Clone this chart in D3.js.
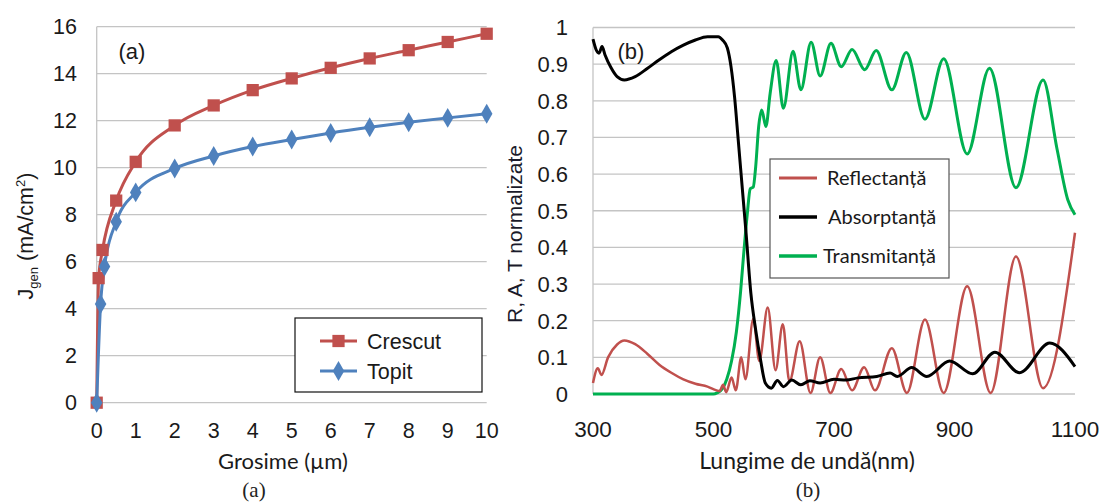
<!DOCTYPE html>
<html>
<head>
<meta charset="utf-8">
<script src="https://cdn.jsdelivr.net/npm/d3@7"></script>
<style>
  body { margin: 0; background: #fff; }
  svg { display: block; }
  .sans { font-family: "Liberation Sans", Arial, sans-serif; }
  .cal { font-family: Lato, "Open Sans", sans-serif; }
  .serif { font-family: "Liberation Serif", "Times New Roman", serif; }
</style>
</head>
<body>
<svg id="chart" width="1099" height="504"></svg>
<script>
// (a) Jgen vs grosime
const grosimeCrescut = [0, 0.05, 0.15, 0.5, 1, 2, 3, 4, 5, 6, 7, 8, 9, 10];
const jCrescut = [0, 5.3, 6.5, 8.6, 10.25, 11.8, 12.65, 13.3, 13.8, 14.25, 14.65, 15.0, 15.35, 15.7];
const grosimeTopit = [0, 0.1, 0.2, 0.5, 1, 2, 3, 4, 5, 6, 7, 8, 9, 10];
const jTopit = [0, 4.2, 5.8, 7.7, 8.95, 9.97, 10.5, 10.9, 11.2, 11.48, 11.72, 11.93, 12.12, 12.3];
const ticksA_x = [0, 1, 2, 3, 4, 5, 6, 7, 8, 9, 10];
const ticksA_y = [0, 2, 4, 6, 8, 10, 12, 14, 16];

// (b) R, A, T vs lungime de unda
const reflectanta = [
  [300, 0.03], [308, 0.07], [314, 0.052], [325, 0.1], [340, 0.135], [352, 0.146], [370, 0.136],
  [390, 0.11], [410, 0.08], [430, 0.058], [450, 0.04], [470, 0.028], [490, 0.02], [505, 0.01],
  [510, 0.008], [516, 0.025], [521, 0.005], [530, 0.045], [537, 0.01], [546, 0.1], [553, 0.04],
  [566, 0.205], [576, 0.09], [590, 0.236], [603, 0.065], [615, 0.19], [626, 0.035], [643, 0.144],
  [661, 0.003], [677, 0.1], [694, 0.003], [712, 0.068], [730, 0.01], [750, 0.073], [768, 0.01],
  [796, 0.125], [821, 0.003], [851, 0.203], [882, 0.003], [921, 0.294], [960, 0.003],
  [1002, 0.375], [1047, 0.016], [1100, 0.44]
];
const absorptanta = [
  [300, 0.968], [305, 0.94], [310, 0.93], [315, 0.948], [320, 0.925], [330, 0.89], [340, 0.866],
  [352, 0.857], [370, 0.866], [390, 0.888], [410, 0.912], [430, 0.934], [450, 0.952], [470, 0.966],
  [490, 0.975], [508, 0.975], [515, 0.966], [523, 0.944], [529, 0.894], [535, 0.81], [541, 0.694],
  [548, 0.557], [554, 0.44], [562, 0.275], [570, 0.175], [578, 0.094], [586, 0.03], [596, 0.016],
  [606, 0.037], [616, 0.02], [630, 0.038], [645, 0.025], [660, 0.036], [677, 0.03], [700, 0.04],
  [720, 0.038], [740, 0.044], [771, 0.048], [793, 0.057], [805, 0.048], [829, 0.072], [854, 0.048],
  [892, 0.09], [930, 0.055], [967, 0.114], [1008, 0.058], [1058, 0.139], [1100, 0.075]
];
const transmitanta = [
  [300, 0], [500, 0], [506, 0.003], [515, 0.015], [522, 0.04], [530, 0.09], [538, 0.17],
  [545, 0.28], [550, 0.38], [556, 0.49], [561, 0.56], [566, 0.565], [570, 0.62], [575, 0.73],
  [580, 0.775], [587, 0.73], [594, 0.82], [604, 0.91], [616, 0.78], [632, 0.935], [645, 0.83],
  [662, 0.96], [677, 0.868], [695, 0.957], [712, 0.893], [730, 0.94], [751, 0.885], [770, 0.937],
  [796, 0.83], [820, 0.932], [851, 0.75], [882, 0.915], [921, 0.655], [958, 0.889], [1002, 0.563],
  [1047, 0.857], [1070, 0.67], [1088, 0.53], [1100, 0.489]
];
const ticksB_x = [300, 500, 700, 900, 1100];
const ticksB_y = [0, 0.1, 0.2, 0.3, 0.4, 0.5, 0.6, 0.7, 0.8, 0.9, 1];

const svg = d3.select("#chart");
const gridColor = "#c4c4c4";

// ---------- panel (a) ----------
const xa = d3.scaleLinear().domain([0, 10]).range([96.7, 486.7]);
const ya = d3.scaleLinear().domain([0, 16]).range([402.7, 26.7]);
const ga = svg.append("g");

ga.append("g").selectAll("line")
  .data(ticksA_y)
  .enter().append("line")
  .attr("x1", xa(0)).attr("x2", xa(10))
  .attr("y1", d => ya(d)).attr("y2", d => ya(d))
  .attr("stroke", gridColor).attr("stroke-width", 1.3);
ga.append("line")
  .attr("x1", xa(0)).attr("x2", xa(0))
  .attr("y1", ya(0)).attr("y2", ya(16))
  .attr("stroke", gridColor).attr("stroke-width", 1.3);

ga.append("g").attr("class", "sans").selectAll("text")
  .data(ticksA_y)
  .enter().append("text")
  .attr("x", 77).attr("y", d => ya(d)).attr("dy", "0.36em")
  .attr("text-anchor", "end").attr("font-size", 21.5).attr("fill", "#1a1a1a")
  .text(d => d);
ga.append("g").attr("class", "sans").selectAll("text")
  .data(ticksA_x)
  .enter().append("text")
  .attr("x", d => xa(d)).attr("y", 438)
  .attr("text-anchor", "middle").attr("font-size", 21.5).attr("fill", "#1a1a1a")
  .text(d => d);

const ylabA = ga.append("text").attr("class", "sans")
  .attr("transform", "translate(33,236) rotate(-90)")
  .attr("text-anchor", "middle").attr("font-size", 21.5).attr("fill", "#1a1a1a");
ylabA.append("tspan").text("J");
ylabA.append("tspan").attr("font-size", 13).attr("dy", 5).text("gen");
ylabA.append("tspan").attr("dy", -5).text(" (mA/cm");
ylabA.append("tspan").attr("font-size", 13).attr("dy", -8).text("2");
ylabA.append("tspan").attr("dy", 8).text(")");

ga.append("text").attr("class", "cal")
  .attr("x", 283).attr("y", 469).attr("text-anchor", "middle")
  .attr("font-size", 22).attr("fill", "#1a1a1a").text("Grosime (µm)");
ga.append("text").attr("class", "sans")
  .attr("x", 132).attr("y", 59).attr("text-anchor", "middle")
  .attr("font-size", 22).attr("fill", "#1a1a1a").text("(a)");

const lineA = d3.line().x(d => xa(d[0])).y(d => ya(d[1])).curve(d3.curveMonotoneX);
const serA = [
  { name: "Crescut", color: "#C0504D", shape: d3.symbolSquare, size: 150,
    pts: grosimeCrescut.map((g, i) => [g, jCrescut[i]]) },
  { name: "Topit", color: "#4F81BD", shape: d3.symbolDiamond, size: 115,
    pts: grosimeTopit.map((g, i) => [g, jTopit[i]]) }
];
serA.forEach(s => {
  ga.append("path").attr("d", lineA(s.pts))
    .attr("fill", "none").attr("stroke", s.color).attr("stroke-width", 3);
});
serA.forEach(s => {
  ga.append("g").selectAll("path")
    .data(s.pts)
    .enter().append("path")
    .attr("d", d3.symbol().type(s.shape).size(s.size))
    .attr("transform", d => `translate(${xa(d[0])},${ya(d[1])})`)
    .attr("fill", s.color);
});

// legenda (a)
const legA = ga.append("g");
legA.append("rect").attr("x", 295).attr("y", 318).attr("width", 187).attr("height", 74)
  .attr("fill", "#fff").attr("stroke", "#111").attr("stroke-width", 1.2);
serA.forEach((s, i) => {
  const cy = 341 + i * 30;
  legA.append("line").attr("x1", 320).attr("x2", 357).attr("y1", cy).attr("y2", cy)
    .attr("stroke", s.color).attr("stroke-width", 3);
  legA.append("path").attr("d", d3.symbol().type(s.shape).size(s.size))
    .attr("transform", `translate(338.5,${cy})`).attr("fill", s.color);
  legA.append("text").attr("class", "sans").attr("x", 367).attr("y", cy).attr("dy", "0.36em")
    .attr("font-size", 21.5).attr("fill", "#1a1a1a").text(s.name);
});

svg.append("text").attr("class", "serif")
  .attr("x", 254).attr("y", 497).attr("text-anchor", "middle")
  .attr("font-size", 21).attr("fill", "#222").text("(a)");

// ---------- panel (b) ----------
const xb = d3.scaleLinear().domain([300, 1100]).range([593, 1075]);
const yb = d3.scaleLinear().domain([0, 1]).range([394, 27.5]);
const gb = svg.append("g");

gb.append("g").selectAll("line")
  .data(ticksB_y)
  .enter().append("line")
  .attr("x1", xb(300)).attr("x2", xb(1100))
  .attr("y1", d => yb(d)).attr("y2", d => yb(d))
  .attr("stroke", gridColor).attr("stroke-width", 1.3);
gb.append("line")
  .attr("x1", xb(300)).attr("x2", xb(300))
  .attr("y1", yb(0)).attr("y2", yb(1))
  .attr("stroke", gridColor).attr("stroke-width", 1.3);

gb.append("g").attr("class", "sans").selectAll("text")
  .data(ticksB_y)
  .enter().append("text")
  .attr("x", 568).attr("y", d => yb(d)).attr("dy", "0.36em")
  .attr("text-anchor", "end").attr("font-size", 22).attr("fill", "#1a1a1a")
  .text(d => d3.format("~g")(d));
gb.append("g").attr("class", "sans").selectAll("text")
  .data(ticksB_x)
  .enter().append("text")
  .attr("x", d => xb(d)).attr("y", 437)
  .attr("text-anchor", "middle").attr("font-size", 22.5).attr("fill", "#1a1a1a")
  .text(d => d);

gb.append("text").attr("class", "sans")
  .attr("transform", "translate(522,234) rotate(-90)")
  .attr("text-anchor", "middle").attr("font-size", 21).attr("fill", "#1a1a2a")
  .text("R, A, T normalizate");
gb.append("text").attr("class", "cal")
  .attr("x", 807).attr("y", 469).attr("text-anchor", "middle")
  .attr("font-size", 23).attr("fill", "#1a1a1a").text("Lungime de undă(nm)");
gb.append("text").attr("class", "sans")
  .attr("x", 631).attr("y", 59).attr("text-anchor", "middle")
  .attr("font-size", 22).attr("fill", "#1a1a1a").text("(b)");

const lineB = d3.line().x(d => xb(d[0])).y(d => yb(d[1])).curve(d3.curveMonotoneX);
const serB = [
  { name: "Reflectanță", color: "#C0504D", w: 2.5, pts: reflectanta },
  { name: "Absorptanță", color: "#000000", w: 3, pts: absorptanta },
  { name: "Transmitanță", color: "#00B050", w: 3, pts: transmitanta }
];
[serB[2], serB[0], serB[1]].forEach(s => {
  gb.append("path").attr("d", lineB(s.pts))
    .attr("fill", "none").attr("stroke", s.color).attr("stroke-width", s.w)
    .attr("stroke-linejoin", "round");
});

// legenda (b)
const legB = gb.append("g");
legB.append("rect").attr("x", 770).attr("y", 159).attr("width", 179).attr("height", 119)
  .attr("fill", "#fff").attr("stroke", "#555").attr("stroke-width", 1.2);
const legTextX = [827, 828, 823];
serB.forEach((s, i) => {
  const cy = 178 + i * 39;
  legB.append("line").attr("x1", 779).attr("x2", 817).attr("y1", cy).attr("y2", cy)
    .attr("stroke", s.color).attr("stroke-width", s.w + 0.5);
  legB.append("text").attr("class", "cal").attr("x", legTextX[i]).attr("y", cy).attr("dy", "0.35em")
    .attr("font-size", 20).attr("fill", "#1a1a1a").text(s.name);
});

svg.append("text").attr("class", "serif")
  .attr("x", 808).attr("y", 497).attr("text-anchor", "middle")
  .attr("font-size", 21).attr("fill", "#222").text("(b)");
</script>
</body>
</html>
